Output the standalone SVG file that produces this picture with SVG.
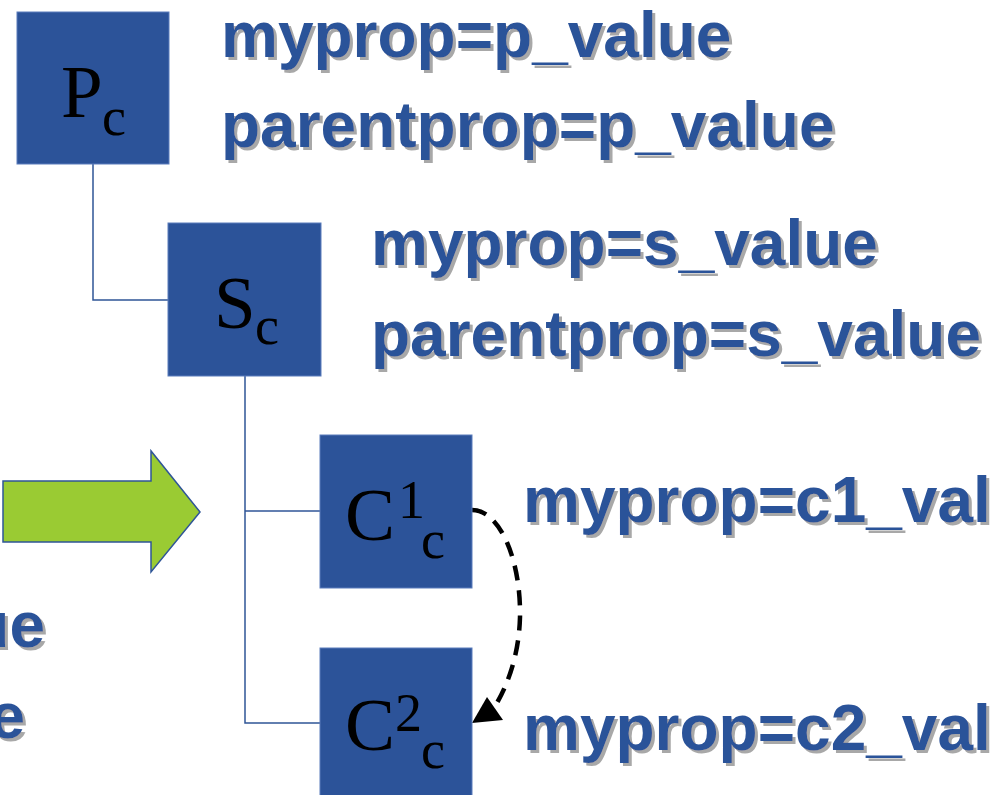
<svg xmlns="http://www.w3.org/2000/svg" width="992" height="795" viewBox="0 0 992 795">
<defs>
<filter id="sh" x="0" y="0" width="105%" height="115%">
<feDropShadow dx="3" dy="3" stdDeviation="0.6" flood-color="#a8a8a8" flood-opacity="1"/>
</filter>
</defs>
<style>
.box{fill:#2C5399;stroke:#5a7cbc;stroke-width:1}
.lbl{font-family:"Liberation Serif","Times New Roman",serif;fill:#000}
.big{font-size:75px}
.small{font-size:54px}
.prop{font-family:"Liberation Sans",Arial,sans-serif;font-weight:bold;font-size:64px;fill:#2C5399;filter:url(#sh)}
.conn{fill:none;stroke:#2F5597;stroke-width:1.5}
</style>
<rect width="992" height="795" fill="#fff"/>
<g id="connectors">
<polyline class="conn" points="93,164 93,300 168,300"/>
<polyline class="conn" points="245,376 245,723 320,723"/>
<line class="conn" x1="245" y1="511" x2="320" y2="511"/>
<path d="M472,510 C500,510 521,560 520,617 C519,655 508,685 494,708" fill="none" stroke="#000" stroke-width="4.5" stroke-dasharray="15,10"/>
<polygon points="472,723 487,697 503,720" fill="#000"/>
</g>
<g id="arrow">
<polygon points="3,481 151,481 151,451 200,512 151,572 151,542 3,542" fill="#9ACB33" stroke="#2F5597" stroke-width="1.5"/>
</g>
<g id="node-p">
<rect class="box" x="17" y="12" width="152" height="152"/>
<text class="lbl big" x="61" y="117">P</text>
<text class="lbl small" x="102" y="135">c</text>
</g>
<g id="node-s">
<rect class="box" x="168" y="223" width="153" height="153"/>
<text class="lbl big" x="214" y="328">S</text>
<text class="lbl small" x="255" y="344">c</text>
</g>
<g id="node-c1">
<rect class="box" x="320" y="435" width="152" height="153"/>
<text class="lbl big" x="345" y="540">C</text>
<text class="lbl small" x="398" y="518">1</text>
<text class="lbl small" x="421" y="558">c</text>
</g>
<g id="node-c2">
<rect class="box" x="320" y="648" width="152" height="153"/>
<text class="lbl big" x="345" y="750">C</text>
<text class="lbl small" x="395" y="731">2</text>
<text class="lbl small" x="421" y="768">c</text>
</g>
<g id="texts">
<text class="prop" x="221" y="57">myprop=p_value</text>
<text class="prop" x="221" y="147">parentprop=p_value</text>
<text class="prop" x="371" y="265">myprop=s_value</text>
<text class="prop" x="371" y="356">parentprop=s_value</text>
<text class="prop" x="523" y="522">myprop=c1_val</text>
<text class="prop" x="523" y="750">myprop=c2_val</text>
<text class="prop" x="45" y="647" text-anchor="end">ue</text>
<text class="prop" x="25" y="738" text-anchor="end">e</text>
</g>
</svg>
